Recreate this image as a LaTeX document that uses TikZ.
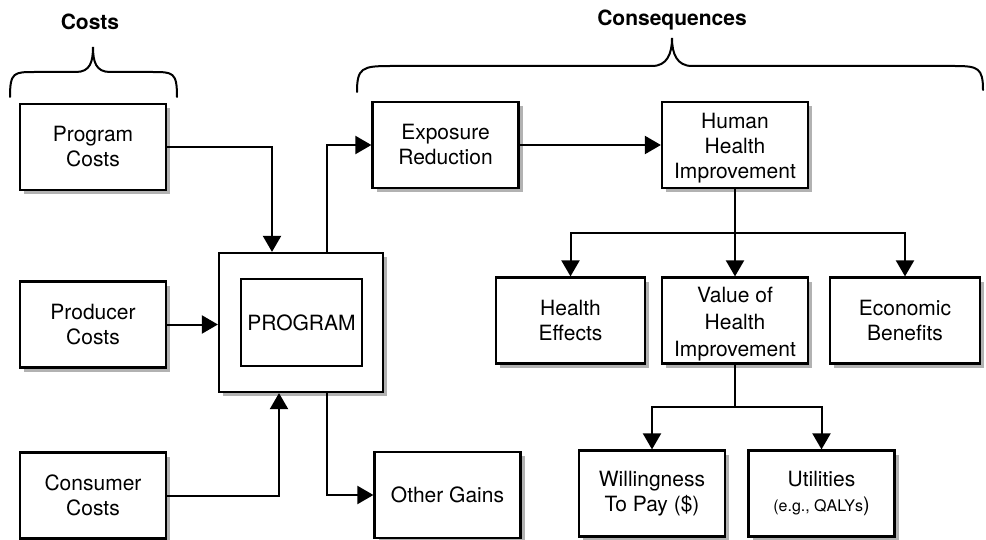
\documentclass[tikz,border=0pt]{standalone}
\usepackage{fontspec}
\setmainfont{TeX Gyre Heros}
\usetikzlibrary{arrows.meta,shadows,calc}
\begin{document}
\begin{tikzpicture}[x=0.5pt,y=-0.5pt,
  txt/.style={font=\fontsize{10.5}{12.5}\selectfont},
  box/.style={txt,draw,line width=1.1pt,fill=white,align=center,inner sep=0pt,
    minimum width=73pt,minimum height=43pt,
    drop shadow={shadow xshift=2pt,shadow yshift=-2pt,fill=gray!60,opacity=1}},
  plain/.style={txt,draw,line width=1.1pt,fill=white,align=center,inner sep=0pt},
  label/.style={txt,align=center,inner sep=0pt},
  heading/.style={font=\fontsize{10.5}{12.5}\selectfont\bfseries},
  conn/.style={line width=1pt},
  arr/.style={conn,-{Triangle[length=8pt,width=9pt]}},
  brace/.style={line width=1pt,line cap=round}]

% page
\fill[white] (0,0) rectangle (986,540);
\useasboundingbox (0,0) rectangle (986,540);

% headings and braces
\node[heading] (costs) at (90,22) {Costs};
\node[heading] (cons) at (672,20) {Consequences};
\draw[brace] (10,97) .. controls (10,72) and (14,72) .. (35,72) -- (76,72)
  .. controls (90,72) and (93,62) .. (93,47)
  .. controls (93,62) and (96,72) .. (110,72) -- (152,72)
  .. controls (173,72) and (177,72) .. (177,97);
\draw[brace] (357,92) .. controls (357,68) and (362,66) .. (390,66) -- (652,66)
  .. controls (667,66) and (672,54) .. (672,38)
  .. controls (672,54) and (677,66) .. (692,66) -- (955,66)
  .. controls (978,66) and (983,68) .. (983,90);

% cost boxes
\node[box] (pc)  at (93,147)    {Program\\Costs};
\node[box] (prc) at (93,324.5)  {Producer\\Costs};
\node[box] (cc)  at (93,495.5)  {Consumer\\Costs};

% program
\node[box,minimum width=82pt,minimum height=69.5pt] (outer) at (301,322.5) {};
\node[plain,minimum width=60.5pt,minimum height=43.5pt] (inner) at (301.5,322.5) {PROGRAM};

% consequence boxes
\node[box] (er)  at (445.5,145) {Exposure\\Reduction};
\node[box] (hhi) at (735,145) {};
\node[label] (hhitext) at (735,148) {Human\\Health\\Improvement};
\node[box] (og)  at (447.5,495) {Other Gains};
\node[box,minimum width=74.5pt] (he)  at (570.5,320.5) {Health\\Effects};
\node[box] (vhi) at (735,320.5) {};
\node[label,font=\fontsize{10.5}{13.5}\selectfont] (vhitext) at (735,324) {Value of\\Health\\Improvement};
\node[box,minimum width=75pt] (eb)  at (905,320.5) {Economic\\Benefits};
\node[box] (wtp) at (652,493.5) {Willingness\\To Pay (\$)};
\node[box] (ut)  at (821.5,493.5) {Utilities\\{\fontsize{8}{10}\selectfont(e.g., QALYs}{\fontsize{10}{10}\selectfont)}};

% connectors into the program
\draw[arr] (pc.east) -| ($(outer.north)+(-29,0)$);
\draw[arr] (prc.east) -- (prc.east -| outer.west);
\draw[arr] (cc.east) -| ($(outer.south)+(-22,0)$);

% connectors out of the program
\draw[arr] ($(outer.north)+(26,0)$) |- (er.west);
\draw[arr] ($(outer.south)+(26,0)$) |- (og.west);
\draw[arr] (er.east) -- (hhi.west);

% health improvement branches
\coordinate (b1) at ($(hhi.south)!0.5!(vhi.north)$);
\draw[arr] (hhi.south) -- (vhi.north);
\draw[arr] (b1) -| (he.north);
\draw[arr] (b1) -| (eb.north);

% valuation branches
\coordinate (b2) at ($(vhi.south)!0.5!(vhi.south |- wtp.north)$);
\draw[conn] (vhi.south) -- (b2);
\draw[arr] (b2) -| (wtp.north);
\draw[arr] (b2) -| (ut.north);
\end{tikzpicture}
\end{document}
